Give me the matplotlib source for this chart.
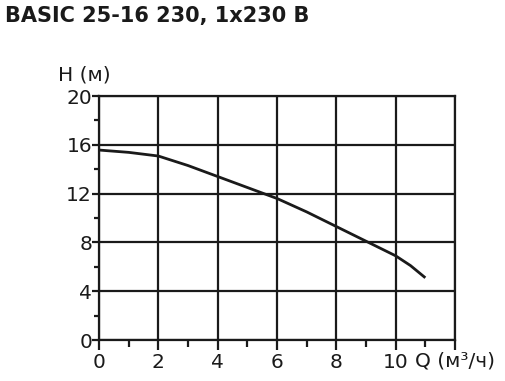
import matplotlib

matplotlib.use("Agg")
import matplotlib.pyplot as plt
from matplotlib.ticker import MultipleLocator

TITLE = "BASIC 25-16 230, 1x230 B"

# curve
flow = [0, 1, 2, 3, 4, 5, 6, 7, 8, 9, 10, 10.5, 11]
head = [15.57, 15.38, 15.08, 14.3, 13.4, 12.5, 11.6, 10.5, 9.3, 8.1, 6.9, 6.1, 5.1]

x_ticks = [0, 2, 4, 6, 8, 10, 12]
x_labels = ["0", "2", "4", "6", "8", "10", ""]
y_ticks = [0, 4, 8, 12, 16, 20]

plt.rcParams["font.family"] = ["DejaVu Sans"]
INK = "#1a1a1a"
FS = 14.5

fig = plt.figure(figsize=(5.05, 3.81), dpi=100)
ax = fig.add_axes([99 / 505, 41 / 381, 356 / 505, 244 / 381])

ax.plot(flow, head, color=INK, linewidth=2.0, solid_capstyle="butt")

ax.set_xlim(0, 12)
ax.set_ylim(0, 20)
ax.set_xticks(x_ticks)
ax.set_xticklabels(x_labels)
ax.set_yticks(y_ticks)
ax.xaxis.set_minor_locator(MultipleLocator(1))
ax.yaxis.set_minor_locator(MultipleLocator(2))
ax.grid(True, which="major", color=INK, linewidth=1.6)
for s in ax.spines.values():
    s.set_color(INK)
    s.set_linewidth(1.6)

ax.tick_params(axis="x", which="major", direction="out", length=7, width=1.6,
               colors=INK, labelsize=FS, pad=2.5)
ax.tick_params(axis="x", which="minor", direction="out", length=5, width=1.6, colors=INK)
ax.tick_params(axis="y", which="major", direction="out", length=5, width=1.6,
               colors=INK, labelsize=FS, pad=0)
ax.tick_params(axis="y", which="minor", direction="out", length=3.5, width=1.6, colors=INK)

ax.text(-0.115, 1.086, "H (м)", transform=ax.transAxes, fontsize=FS, color=INK,
        ha="left", va="center")
ax.text(10.65, -1.75, "Q (м³/ч)", fontsize=FS, color=INK, ha="left", va="center",
        clip_on=False)

fig.text(5 / 505, 1 - 16 / 381, TITLE, fontsize=15, fontweight="bold", color=INK,
         ha="left", va="center")

fig.savefig("out.png", dpi=100)
